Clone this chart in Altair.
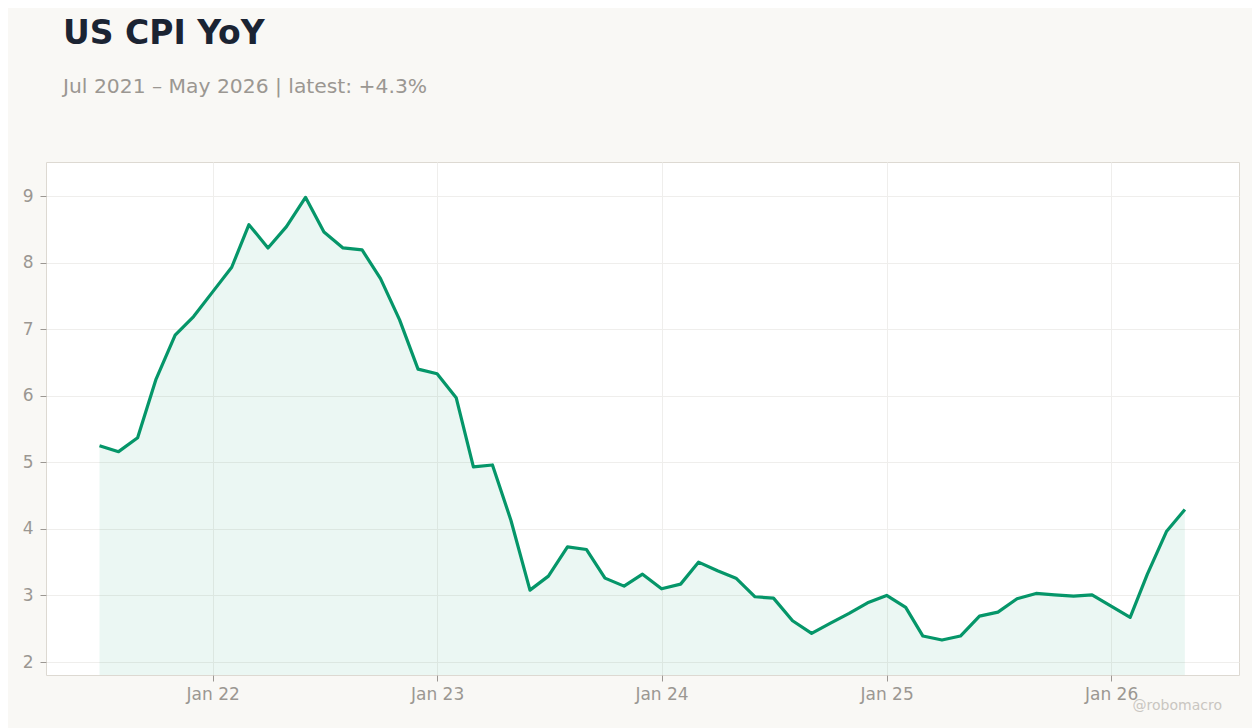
import altair as alt
import pandas as pd

# monthly CPI YoY (%), Jul 2021 .. May 2026
cpi_2021 = [5.25, 5.16, 5.37, 6.25, 6.91, 7.19]
cpi_2022 = [7.56, 7.93, 8.57, 8.22, 8.54, 8.98, 8.46, 8.22, 8.19, 7.76, 7.14, 6.40]
cpi_2023 = [6.33, 5.97, 4.93, 4.96, 4.13, 3.08, 3.29, 3.73, 3.69, 3.26, 3.14, 3.32]
cpi_2024 = [3.10, 3.17, 3.50, 3.37, 3.26, 2.98, 2.96, 2.62, 2.43, 2.58, 2.73, 2.89]
cpi_2025 = [3.00, 2.82, 2.39, 2.33, 2.39, 2.69, 2.75, 2.95, 3.03, 3.01, 2.99, 3.01]
cpi_2026 = [2.84, 2.67, 3.32, 3.96, 4.29]

values = cpi_2021 + cpi_2022 + cpi_2023 + cpi_2024 + cpi_2025 + cpi_2026
months = pd.date_range("2021-07-01", periods=len(values), freq="MS").strftime("%Y-%m-%dT00:00:00")

df = pd.DataFrame({"date": months, "cpi": values})

title_text = "US CPI YoY"
subtitle_text = "Jul 2021 \u2013 May 2026 | latest: +4.3%"
watermark = "@robomacro"

line_green = "#059669"
grey = "#9b9792"

tick_years = [2022, 2023, 2024, 2025, 2026]

x_enc = alt.X(
    "date:T",
    title=None,
    scale=alt.Scale(domain=["2021-04-05T00:00:00", "2026-07-28T00:00:00"]),
    axis=alt.Axis(
        values=[alt.DateTime(year=y, month=1, date=1) for y in tick_years],
        format="%b %y",
        labelPadding=5,
    ),
)
y_enc = alt.Y(
    "cpi:Q",
    title=None,
    scale=alt.Scale(domain=[1.805, 9.511], zero=False, nice=False),
    axis=alt.Axis(values=[2, 3, 4, 5, 6, 7, 8, 9], labelPadding=7),
)

base = alt.Chart(df).encode(x=x_enc, y=y_enc)

# fill down to the bottom of the plot, clipped to the frame
area = base.mark_area(color=line_green, opacity=0.08, clip=True)
line = base.mark_line(color=line_green, strokeWidth=3.2, strokeJoin="round")

mark_df = pd.DataFrame({"t": [watermark]})
stamp = alt.Chart(mark_df).mark_text(
    align="right", baseline="alphabetic", fontSize=14, color="#c9c6c1", font="DejaVu Sans"
).encode(x=alt.value(1176), y=alt.value(548), text="t:N")

chart = (
    alt.layer(area, line, stamp)
    .properties(
        width=1193,
        height=513,
        autosize=alt.AutoSizeParams(type="none"),
        padding={"left": 38, "top": 154, "right": 13, "bottom": 53},
        title=alt.TitleParams(
            text=title_text,
            subtitle=subtitle_text,
            anchor="start",
            frame="group",
            dx=17,
            offset=65,
            font="DejaVu Sans",
            fontSize=33,
            fontWeight="bold",
            color="#1b2433",
            subtitleFont="DejaVu Sans",
            subtitleFontSize=20.3,
            subtitleColor=grey,
            subtitlePadding=26,
        ),
    )
    .configure(background="#f9f8f5")
    .configure_view(fill="white", stroke="#ddd9d2", strokeWidth=1)
    .configure_axis(
        labelFont="DejaVu Sans",
        labelFontSize=17,
        labelColor=grey,
        tickColor=grey,
        tickSize=6,
        domain=False,
        gridColor="#efeeec",
        gridWidth=1,
    )
)

chart.save("out.html", embed_options={"renderer": "svg", "actions": False})
